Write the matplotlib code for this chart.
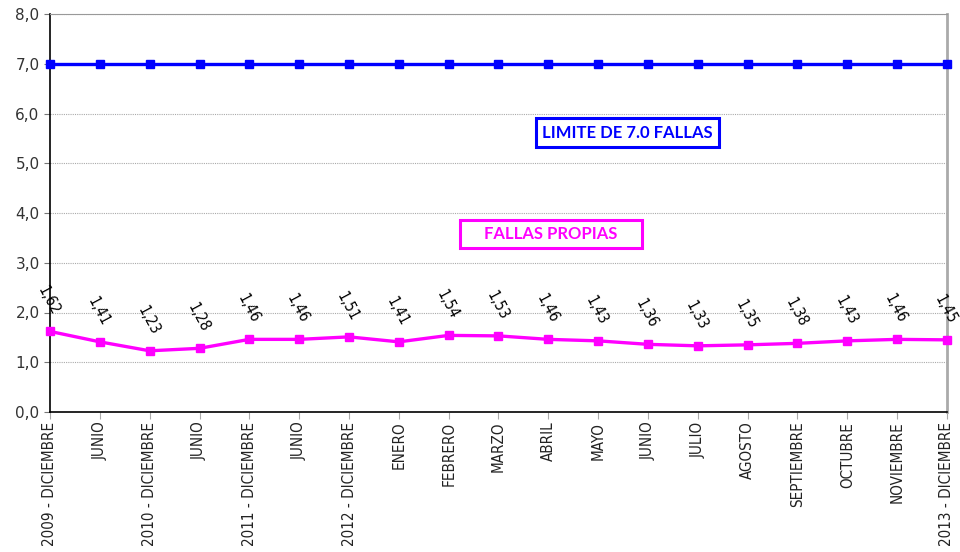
import matplotlib
matplotlib.use("Agg")
import matplotlib.pyplot as plt
from matplotlib.ticker import FuncFormatter, MultipleLocator
from matplotlib.patches import Rectangle

categories = ["2009 - DICIEMBRE", "JUNIO", "2010 - DICIEMBRE", "JUNIO", "2011 - DICIEMBRE",
              "JUNIO", "2012 - DICIEMBRE", "ENERO", "FEBRERO", "MARZO", "ABRIL", "MAYO",
              "JUNIO", "JULIO", "AGOSTO", "SEPTIEMBRE", "OCTUBRE", "NOVIEMBRE", "2013 - DICIEMBRE"]
fallas_propias = [1.62, 1.41, 1.23, 1.28, 1.46, 1.46, 1.51, 1.41, 1.54, 1.53, 1.46, 1.43,
                  1.36, 1.33, 1.35, 1.38, 1.43, 1.46, 1.45]
limite = [7.0] * len(categories)

plt.rcParams['font.family'] = ['DejaVu Sans']

W, H = 960, 552
fig = plt.figure(figsize=(9.6, 5.52), dpi=100)
ax = fig.add_axes([50/W, 1 - 412/H, (947-50)/W, (412-14)/H])

x = list(range(len(categories)))
ax.plot(x, limite, color="#0000FF", lw=2.4, marker="s", ms=6, clip_on=False, zorder=3)
ax.plot(x, fallas_propias, color="#FF00FF", lw=2.4, marker="s", ms=6, clip_on=False, zorder=3)

for xi, v in zip(x, fallas_propias):
    ax.annotate(f"{v:.2f}".replace(".", ","), (xi, v), xytext=(-1, 22), textcoords="offset points",
                ha="center", va="center", rotation=-62, fontsize=11, color="black",
                fontstretch="condensed")

ax.set_xlim(0, len(categories) - 1)
ax.set_ylim(0, 8)
ax.yaxis.set_major_locator(MultipleLocator(1))
ax.yaxis.set_major_formatter(FuncFormatter(lambda v, p: f"{v:.1f}".replace(".", ",")))
ax.set_xticks(x)
ax.set_xticklabels(categories, rotation=90, fontsize=10.9, color="#222222", fontstretch="condensed")
ax.tick_params(axis="y", labelsize=11, colors="#333333", length=4, color="#777777")
ax.tick_params(axis="x", length=5, color="#aaaaaa", pad=2)
ax.grid(axis="y", color="#aaaaaa", ls=(0, (1, 1)), lw=0.8)
ax.set_axisbelow(True)

ax.spines["left"].set_color("black")
ax.spines["left"].set_linewidth(1.2)
ax.spines["bottom"].set_color("black")
ax.spines["bottom"].set_linewidth(1.2)
ax.spines["top"].set_color("#999999")
ax.spines["right"].set_color("#aaaaaa")
ax.spines["right"].set_linewidth(2)

def box(x0, y0, x1, y1, text, color):
    fig.patches.append(Rectangle((x0/W, 1 - y1/H), (x1-x0)/W, (y1-y0)/H, transform=fig.transFigure,
                                 fc="white", ec=color, lw=2.2, zorder=5))
    fig.text((x0+x1)/2/W, 1 - (y0+y1)/2/H, text, color=color, fontsize=12, fontweight="bold",
             ha="center", va="center", family=['Lato', 'DejaVu Sans'], zorder=6)

box(536, 118, 719, 147, "LIMITE DE 7.0 FALLAS", "#0000FF")
box(460, 220, 642, 248, "FALLAS PROPIAS", "#FF00FF")

fig.savefig("out.png", dpi=100)
